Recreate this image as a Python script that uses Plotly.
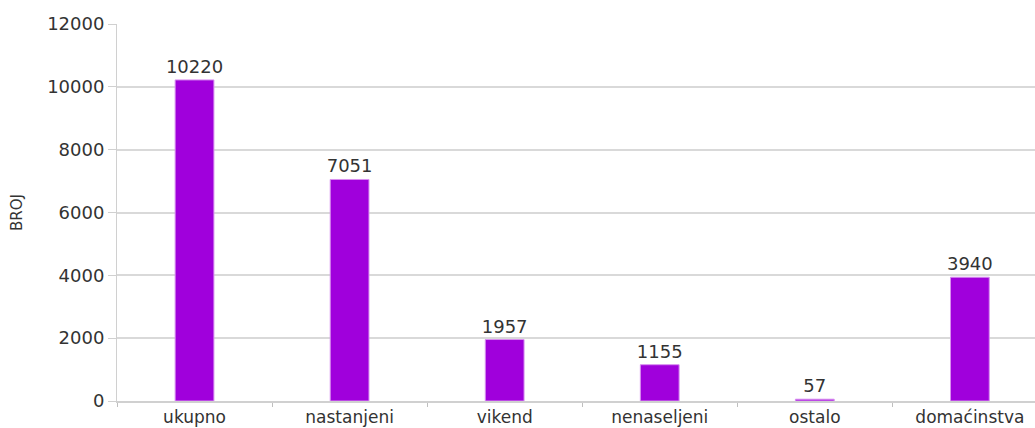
import plotly.graph_objects as go

categories = ["ukupno", "nastanjeni", "vikend", "nenaseljeni", "ostalo", "domaćinstva"]
values = [10220, 7051, 1957, 1155, 57, 3940]
y_ticks = [0, 2000, 4000, 6000, 8000, 10000, 12000]

FONT = "DejaVu Sans"

fig = go.Figure(go.Bar(
    x=categories, y=values,
    width=0.25,
    marker=dict(color="#A000DC", line=dict(color="#D890F0", width=1)),
    text=[str(v) for v in values], textposition="outside",
    textfont=dict(size=18, color="#333333", family=FONT),
    constraintext="none",
    cliponaxis=False,
))

fig.update_layout(
    width=1035, height=428,
    margin=dict(l=117, r=0, t=24, b=27),
    plot_bgcolor="white", paper_bgcolor="white",
    showlegend=False,
    font=dict(family=FONT, color="#333333"),
    bargap=0.75,
)
fig.update_xaxes(
    range=[-0.5, 5.42], tickson="boundaries", ticks="outside", ticklen=4,
    tickcolor="#BFBFBF", showgrid=False, showline=True, linecolor="#D0D0D0", linewidth=2,
    tickfont=dict(size=17, color="#333333"), automargin=False,
)
fig.update_yaxes(
    range=[0, 12000], tickvals=y_ticks, ticktext=[str(t) for t in y_ticks],
    ticks="outside", ticklen=8, tickcolor="#D0D0D0",
    showgrid=True, gridcolor="#D9D9D9", gridwidth=2, zeroline=False,
    showline=True, linecolor="#D0D0D0", linewidth=1,
    tickfont=dict(size=18, color="#333333"), automargin=False,
    title=dict(text="BROJ", font=dict(size=15, color="#333333"), standoff=20),
)

fig.write_html(
    "out.html",
    config={"displayModeBar": False},
    post_script="document.body.style.margin='0';document.body.style.overflow='hidden';",
)
